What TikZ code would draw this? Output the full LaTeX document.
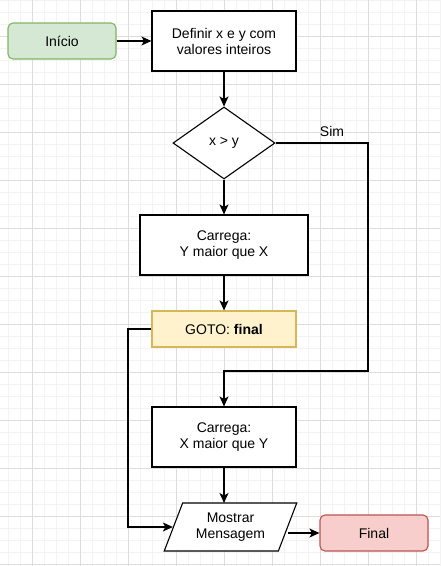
\documentclass[tikz,border=0pt]{standalone}
\usepackage{xcolor}
\usepackage{fontspec}
\setmainfont{Liberation Sans}
\usepackage{tikz}
\usetikzlibrary{arrows.meta}
\usetikzlibrary{shapes.geometric}
\usetikzlibrary{positioning}
\definecolor{verdefundo}{HTML}{D5E8D4}
\definecolor{verdeborda}{HTML}{82B366}
\definecolor{amarelofundo}{HTML}{FFF2CC}
\definecolor{amareloborda}{HTML}{D6B656}
\definecolor{vermelhofundo}{HTML}{F8CECC}
\definecolor{vermelhoborda}{HTML}{B85450}
\definecolor{gradefina}{HTML}{F3F3F3}
\definecolor{gradegrossa}{HTML}{DDDDDD}
\tikzset{>=latex}
\tikzstyle{bloco} = [draw, line width=1.1pt, inner sep=0, align=center, font=\fontsize{14}{16}\selectfont]
\tikzstyle{caixa} = [bloco, rectangle, minimum width=144pt, minimum height=60pt]
\tikzstyle{terminal} = [bloco, rectangle, rounded corners=5pt, minimum width=108pt, minimum height=36pt]
\tikzstyle{seta} = [-{Stealth[length=10pt,width=9pt,inset=2.5pt]}, line width=1.1pt]

\begin{document}
\begin{tikzpicture}[x=1pt, y=-1pt]
\useasboundingbox (0,0) rectangle (440,566);
% grade de fundo
\foreach \gx in {8,20,...,440} \draw [gradefina, line width=0.8pt] (\gx,0) -- (\gx,566);
\foreach \gy in {0,12,...,566} \draw [gradefina, line width=0.8pt] (0,\gy) -- (440,\gy);
\foreach \gx in {32,80,...,440} \draw [gradegrossa, line width=0.8pt] (\gx,0) -- (\gx,566);
\foreach \gy in {36,84,...,566} \draw [gradegrossa, line width=0.8pt] (0,\gy) -- (440,\gy);
% blocos
\node [terminal, fill=verdefundo, draw=verdeborda] (inicio) at (62, 41) {Início};
\node [caixa, fill=white] (definir) at (224, 41) {Definir x e y com\\valores inteiros};
\node [bloco, diamond, fill=white, minimum width=102pt, minimum height=72pt] (teste) at (224, 143) {x > y};
\node [caixa, fill=white, minimum width=168pt] (cargaY) at (224, 245) {Carrega:\\Y maior que X};
\node [bloco, rectangle, fill=amarelofundo, draw=amareloborda, minimum width=144pt, minimum height=36pt] (goto) at (224, 329) {GOTO: \textbf{final}};
\node [caixa, fill=white] (cargaX) at (224, 437) {Carrega:\\X maior que Y};
\node [bloco, trapezium, trapezium left angle=65, trapezium right angle=115, trapezium stretches=true, fill=white, minimum width=133pt, minimum height=48pt] (mostrar) at (230.5, 527) {Mostrar\\Mensagem};
\node [terminal, fill=vermelhofundo, draw=vermelhoborda] (final) at (374, 533) {Final};
\coordinate (simcanto) at (368, 371);
\coordinate (gotocanto) at (128, 329);
\coordinate (mostrartopo) at (224, 503);
% ligacoes
\draw [seta] (inicio) to (definir);
\draw [seta] (definir) to (teste);
\draw [seta] (teste) to (cargaY);
\draw [seta] (cargaY) to (goto);
\draw [seta] (teste.east) -| (simcanto) -| (cargaX.north);
\node [draw=none, font=\fontsize{14}{16}\selectfont] (sim) at (332, 131) {Sim};
\draw [seta] (goto.west) -- (gotocanto) |- (mostrar.west);
\draw [seta] (cargaX.south) -- (mostrartopo);
\draw [seta] (mostrar.east |- final.west) -- (final.west);
\end{tikzpicture}
\end{document}
